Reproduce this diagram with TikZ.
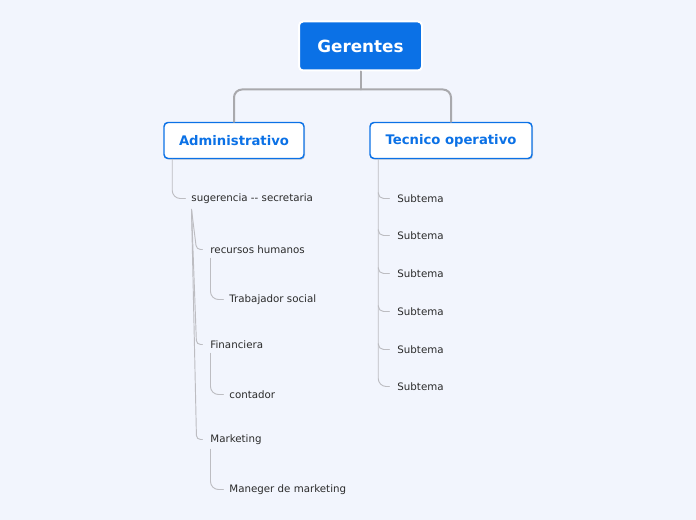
\documentclass[tikz,border=0pt]{standalone}
\usepackage{fontspec}
\setmainfont{DejaVu Sans}
\usetikzlibrary{shadows}
\definecolor{fondo}{HTML}{F2F5FD}
\definecolor{azul}{HTML}{0B71E6}
\definecolor{linea}{HTML}{A9A9AD}
\definecolor{fina}{HTML}{BDBDC2}
\definecolor{texto}{HTML}{2A2A2A}
\begin{document}
\begin{tikzpicture}[x=0.75pt,y=-0.75pt,line join=round,line cap=round,
	raiz/.style={fill=azul,draw=white,line width=1.5pt,rounded corners=3pt,text=white,
		font=\fontsize{12.6}{14}\selectfont\bfseries,minimum width=92.25pt,minimum height=36.75pt},
	rama/.style={fill=white,draw=azul,line width=1.1pt,rounded corners=3pt,text=azul,
		font=\fontsize{9.9}{12}\selectfont\bfseries,minimum height=27pt,
		drop shadow={shadow xshift=0.8pt,shadow yshift=-1pt,opacity=0.25}},
	hoja/.style={anchor=west,inner sep=2pt,text=texto,font=\fontsize{7.7}{9}\selectfont},
	grueso/.style={draw=linea,line width=1.5pt},
	delgado/.style={draw=fina,line width=0.7pt}]
	\fill[fondo] (0,0) rectangle (696,520);
	% nodos principales
	\node[raiz] (ger) at (360.5,46) {Gerentes};
	\node[rama,minimum width=105pt] (adm) at (234,140.5) {Administrativo};
	\node[rama,minimum width=121.5pt] (tec) at (451,140.5) {Tecnico operativo};
	\draw[grueso] (ger.south) -- ++(0,18) coordinate (j);
	\draw[grueso,rounded corners=6pt] (adm.north) |- (j) -| (tec.north);
	% rama administrativa
	\node[hoja] (sug) at (188.5,198.5) {sugerencia -{}- secretaria};
	\node[hoja] (rh) at (207.5,249.5) {recursos humanos};
	\node[hoja] (tra) at (226.5,299.5) {Trabajador social};
	\node[hoja] (fin) at (207.5,344.5) {Financiera};
	\node[hoja] (con) at (226.5,394.5) {contador};
	\node[hoja] (mkt) at (207.5,439.5) {Marketing};
	\node[hoja] (mdm) at (226.5,489.5) {Maneger de marketing};
	\draw[delgado,rounded corners=6pt] ([shift={(9,0)}]adm.south west) |- ([shift={(-3,0)}]sug.west);
	\coordinate (sg) at ([shift={(3,3)}]sug.south west);
	\foreach \n in {rh,fin,mkt}
		\draw[delgado,rounded corners=3pt] (sg) -- ([shift={(-11,0)}]\n.west) -- ([shift={(-5,0)}]\n.west);
	\draw[delgado,rounded corners=6pt] ([shift={(3,2)}]rh.south west) |- ([shift={(-3,0)}]tra.west);
	\draw[delgado,rounded corners=6pt] ([shift={(3,2)}]fin.south west) |- ([shift={(-3,0)}]con.west);
	\draw[delgado,rounded corners=6pt] ([shift={(3,2)}]mkt.south west) |- ([shift={(-3,0)}]mdm.west);
	% rama tecnica
	\foreach \i/\y in {1/198.5,2/235.5,3/273.5,4/311.5,5/349.5,6/386.5}
		\node[hoja] (sub\i) at (394.5,\y) {Subtema};
	\coordinate (tk) at ([shift={(9,0)}]tec.south west);
	\draw[delgado,rounded corners=6pt] (tk) |- ([shift={(-5,0)}]sub6.west);
	\foreach \i in {1,...,5}
		\draw[delgado,rounded corners=4pt] ([shift={(0,-6)}]tk |- sub\i.west) -- (tk |- sub\i.west) -- ([shift={(-5,0)}]sub\i.west);
\end{tikzpicture}
\end{document}
